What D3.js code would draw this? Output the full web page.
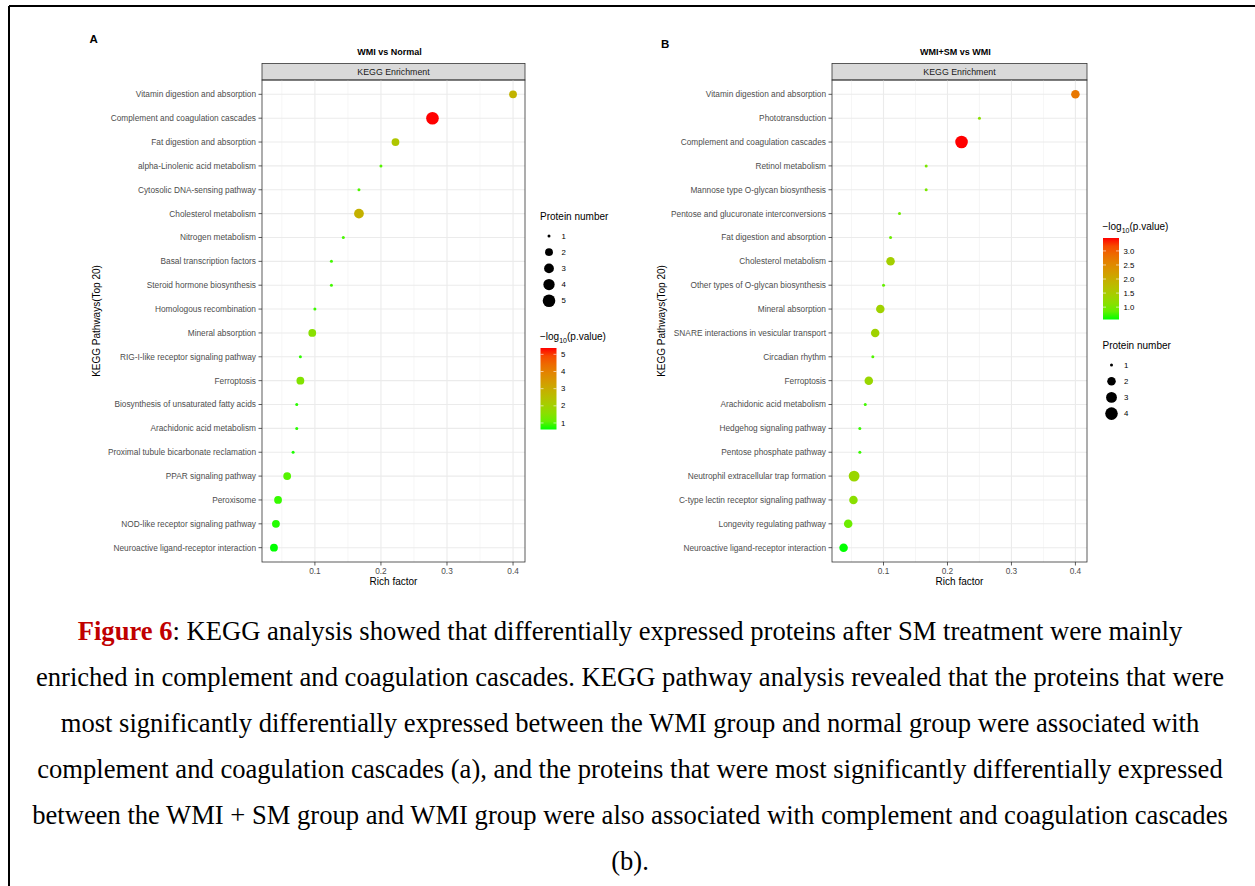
<!DOCTYPE html>
<html>
<head>
<meta charset="utf-8">
<script src="https://cdn.jsdelivr.net/npm/d3@7"></script>
<style>
  body { margin: 0; background: white; }
  svg { display: block; }
</style>
</head>
<body>
<div id="container"></div>
<script>
// KEGG enrichment bubble plots (Figure 6, panels A and B)

const width = 1255;
const height = 886;

// ---- data: panel A (WMI vs Normal) ----
const pathwaysA = [
  "Vitamin digestion and absorption",
  "Complement and coagulation cascades",
  "Fat digestion and absorption",
  "alpha-Linolenic acid metabolism",
  "Cytosolic DNA-sensing pathway",
  "Cholesterol metabolism",
  "Nitrogen metabolism",
  "Basal transcription factors",
  "Steroid hormone biosynthesis",
  "Homologous recombination",
  "Mineral absorption",
  "RIG-I-like receptor signaling pathway",
  "Ferroptosis",
  "Biosynthesis of unsaturated fatty acids",
  "Arachidonic acid metabolism",
  "Proximal tubule bicarbonate reclamation",
  "PPAR signaling pathway",
  "Peroxisome",
  "NOD-like receptor signaling pathway",
  "Neuroactive ligand-receptor interaction"
];
const richA = [0.4, 0.278, 0.222, 0.2, 0.1667, 0.1667, 0.143, 0.125, 0.125, 0.1,
               0.096, 0.078, 0.078, 0.0725, 0.0725, 0.067, 0.058, 0.0442, 0.041, 0.038];
const countA = [2, 5, 2, 1, 1, 3, 1, 1, 1, 1, 2, 1, 2, 1, 1, 1, 2, 2, 2, 2];
const logpA = [2.8, 5.37, 2.3, 0.95, 0.9, 2.85, 0.85, 0.82, 0.82, 0.78,
               1.55, 0.72, 1.45, 0.7, 0.7, 0.66, 0.95, 0.75, 0.68, 0.62];

// ---- data: panel B (WMI+SM vs WMI) ----
const pathwaysB = [
  "Vitamin digestion and absorption",
  "Phototransduction",
  "Complement and coagulation cascades",
  "Retinol metabolism",
  "Mannose type O-glycan biosynthesis",
  "Pentose and glucuronate interconversions",
  "Fat digestion and absorption",
  "Cholesterol metabolism",
  "Other types of O-glycan biosynthesis",
  "Mineral absorption",
  "SNARE interactions in vesicular transport",
  "Circadian rhythm",
  "Ferroptosis",
  "Arachidonic acid metabolism",
  "Hedgehog signaling pathway",
  "Pentose phosphate pathway",
  "Neutrophil extracellular trap formation",
  "C-type lectin receptor signaling pathway",
  "Longevity regulating pathway",
  "Neuroactive ligand-receptor interaction"
];
const richB = [0.4, 0.25, 0.222, 0.1667, 0.1667, 0.125, 0.111, 0.111, 0.1, 0.095,
               0.087, 0.0833, 0.077, 0.0715, 0.063, 0.063, 0.054, 0.053, 0.0448, 0.0376];
const countB = [2, 1, 4, 1, 1, 1, 1, 2, 1, 2, 2, 1, 2, 1, 1, 1, 3, 2, 2, 2];
const logpB = [2.74, 1.14, 3.46, 1.0, 1.0, 0.92, 0.9, 1.43, 0.85, 1.38,
               1.37, 0.74, 1.3, 0.68, 0.65, 0.65, 1.3, 1.14, 0.9, 0.56];

// ---- ticks / legend breaks ----
const xTicks = [0.1, 0.2, 0.3, 0.4];
const xMinorTicks = [0.05, 0.15, 0.25, 0.35];
const sizeBreaksA = [1, 2, 3, 4, 5];
const sizeBreaksB = [1, 2, 3, 4];
const colorTicksA = [1, 2, 3, 4, 5];
const colorTicksB = [1.0, 1.5, 2.0, 2.5, 3.0];

const captionLines = [
  ": KEGG analysis showed that differentially expressed proteins after SM treatment were mainly",
  "enriched in complement and coagulation cascades. KEGG pathway analysis revealed that the proteins that were",
  "most significantly differentially expressed between the WMI group and normal group were associated with",
  "complement and coagulation cascades (a), and the proteins that were most significantly differentially expressed",
  "between the WMI + SM group and WMI group were also associated with complement and coagulation cascades",
  "(b)."
];

const svg = d3.select("#container")
  .append("svg")
  .attr("width", width)
  .attr("height", height)
  .style("background-color", "white");

// outer frame (top and left edges visible)
svg.append("line").attr("x1", 9).attr("x2", width).attr("y1", 6).attr("y2", 6)
  .attr("stroke", "black").attr("stroke-width", 2);
svg.append("line").attr("x1", 9).attr("x2", 9).attr("y1", 6).attr("y2", height)
  .attr("stroke", "black").attr("stroke-width", 2);

const sansFont = "'Liberation Sans', Arial, sans-serif";

function drawPanel(cfg) {
  const g = svg.append("g").style("font-family", sansFont);
  const { left, right, top, bottom } = cfg;

  // x domain with ggplot style 5% expansion
  const ext = d3.extent(cfg.rich);
  const pad = (ext[1] - ext[0]) * 0.05;
  const x = d3.scaleLinear().domain([ext[0] - pad, ext[1] + pad]).range([left, right]);
  const y = d3.scalePoint().domain(cfg.pathways).range([top, bottom]).padding(0.6);

  const cExt = d3.extent(cfg.logp);
  const color = d3.scaleLinear().domain(cExt).range(["#00ff00", "#ff0000"])
    .interpolate(d3.interpolateLab);

  const sMax = d3.max(cfg.sizeBreaks), sMin = d3.min(cfg.sizeBreaks);
  const sizeT = d3.scaleSqrt().domain([0, sMax - sMin]).range([0, 1]);
  const rLin = d3.scaleLinear().domain([0, 1]).range([1.5, 6.3]);
  const radius = v => rLin(sizeT(v - sMin));

  // title and panel letter
  g.append("text").attr("x", cfg.letterX).attr("y", cfg.letterY)
    .style("font-size", "11.5px").style("font-weight", "bold").text(cfg.letter);
  g.append("text").attr("x", (left + right) / 2 - 4).attr("y", 54.5)
    .attr("text-anchor", "middle")
    .style("font-size", "9px").style("font-weight", "bold").text(cfg.title);

  // strip
  g.append("rect").attr("x", left).attr("y", 63.5).attr("width", right - left).attr("height", top - 63.5)
    .attr("fill", "#d9d9d9").attr("stroke", "#333").attr("stroke-width", 0.8);
  g.append("text").attr("x", (left + right) / 2).attr("y", 75)
    .attr("text-anchor", "middle").attr("fill", "#1a1a1a")
    .style("font-size", "8.8px").text("KEGG Enrichment");

  // grid
  const grid = g.append("g");
  grid.selectAll(".minor").data(xMinorTicks).join("line")
    .attr("x1", d => x(d)).attr("x2", d => x(d)).attr("y1", top).attr("y2", bottom)
    .attr("stroke", "#f0f0f0").attr("stroke-width", 0.6);
  grid.selectAll(".majorx").data(xTicks).join("line")
    .attr("x1", d => x(d)).attr("x2", d => x(d)).attr("y1", top).attr("y2", bottom)
    .attr("stroke", "#ebebeb").attr("stroke-width", 1.1);
  grid.selectAll(".majory").data(cfg.pathways).join("line")
    .attr("x1", left).attr("x2", right).attr("y1", d => y(d)).attr("y2", d => y(d))
    .attr("stroke", "#ebebeb").attr("stroke-width", 1.1);

  // points
  const rows = cfg.pathways.map((p, i) => ({
    p, rich: cfg.rich[i], n: cfg.count[i], lp: cfg.logp[i]
  }));
  g.append("g").selectAll("circle").data(rows).join("circle")
    .attr("cx", d => x(d.rich)).attr("cy", d => y(d.p))
    .attr("r", d => radius(d.n))
    .attr("fill", d => color(d.lp));

  // panel border
  g.append("rect").attr("x", left).attr("y", top).attr("width", right - left).attr("height", bottom - top)
    .attr("fill", "none").attr("stroke", "#333").attr("stroke-width", 0.8);

  // y axis
  const yAxis = g.append("g");
  yAxis.selectAll("line").data(cfg.pathways).join("line")
    .attr("x1", left - 3.5).attr("x2", left).attr("y1", d => y(d)).attr("y2", d => y(d))
    .attr("stroke", "#333").attr("stroke-width", 0.8);
  yAxis.selectAll("text").data(cfg.pathways).join("text")
    .attr("x", left - 6).attr("y", d => y(d) + 2.9)
    .attr("text-anchor", "end").attr("fill", "#4d4d4d")
    .style("font-size", "8.3px").text(d => d);

  // x axis
  const xAxis = g.append("g");
  xAxis.selectAll("line").data(xTicks).join("line")
    .attr("x1", d => x(d)).attr("x2", d => x(d)).attr("y1", bottom).attr("y2", bottom + 3.5)
    .attr("stroke", "#333").attr("stroke-width", 0.8);
  xAxis.selectAll("text").data(xTicks).join("text")
    .attr("x", d => x(d)).attr("y", bottom + 11.5)
    .attr("text-anchor", "middle").attr("fill", "#4d4d4d")
    .style("font-size", "8.3px").text(d => d3.format(".1f")(d));

  g.append("text").attr("x", (left + right) / 2).attr("y", 585)
    .attr("text-anchor", "middle").style("font-size", "10px").text("Rich factor");
  g.append("text")
    .attr("transform", `translate(${cfg.yTitleX}, ${(top + bottom) / 2}) rotate(-90)`)
    .attr("text-anchor", "middle").style("font-size", "10px").text("KEGG Pathways(Top 20)");

  // size legend
  const sl = g.append("g").attr("transform", `translate(${cfg.legendX}, ${cfg.sizeLegendY})`);
  sl.append("text").attr("x", 0).attr("y", 0).style("font-size", "10px").text("Protein number");
  sl.selectAll("circle").data(cfg.sizeBreaks).join("circle")
    .attr("cx", 9).attr("cy", (d, i) => 16 + i * 16.2)
    .attr("r", d => radius(d)).attr("fill", "black");
  sl.selectAll(".lab").data(cfg.sizeBreaks).join("text")
    .attr("x", 21.5).attr("y", (d, i) => 16 + i * 16.2 + 2.6)
    .style("font-size", "7.8px").text(d => d);

  // colour legend
  const cl = g.append("g").attr("transform", `translate(${cfg.legendX}, ${cfg.colorLegendY})`);
  const ct = cl.append("text").attr("x", 0).attr("y", 0).style("font-size", "10px");
  ct.append("tspan").text("\u2212log");
  ct.append("tspan").attr("dy", 2.5).style("font-size", "7px").text("10");
  ct.append("tspan").attr("dy", -2.5).text("(p.value)");

  const barTop = 8, barH = 81.5, barW = 16;
  const gradId = "grad" + cfg.letter;
  const grad = svg.append("defs").append("linearGradient").attr("id", gradId)
    .attr("x1", 0).attr("x2", 0).attr("y1", 1).attr("y2", 0);
  d3.range(0, 1.0001, 0.1).forEach(t => {
    grad.append("stop").attr("offset", t)
      .attr("stop-color", color(cExt[0] + t * (cExt[1] - cExt[0])));
  });
  cl.append("rect").attr("x", 0.5).attr("y", barTop).attr("width", barW).attr("height", barH)
    .attr("fill", `url(#${gradId})`);
  const cy = d3.scaleLinear().domain(cExt).range([barTop + barH, barTop]);
  cl.selectAll(".tk").data(cfg.colorTicks).join("g").each(function (d) {
    const t = d3.select(this);
    t.append("line").attr("x1", 0.5).attr("x2", 3.5).attr("y1", cy(d)).attr("y2", cy(d))
      .attr("stroke", "white").attr("stroke-width", 0.6);
    t.append("line").attr("x1", barW - 2.5).attr("x2", barW + 0.5).attr("y1", cy(d)).attr("y2", cy(d))
      .attr("stroke", "white").attr("stroke-width", 0.6);
    t.append("text").attr("x", barW + 5).attr("y", cy(d) + 2.6)
      .style("font-size", "7.8px").text(cfg.colorFormat(d));
  });
}

drawPanel({
  letter: "A", letterX: 89.5, letterY: 43, title: "WMI vs Normal",
  left: 262, right: 525, top: 80, bottom: 562, yTitleX: 100,
  pathways: pathwaysA, rich: richA, count: countA, logp: logpA,
  sizeBreaks: sizeBreaksA, colorTicks: colorTicksA, colorFormat: d3.format("d"),
  legendX: 540, sizeLegendY: 220, colorLegendY: 340
});

drawPanel({
  letter: "B", letterX: 661, letterY: 48, title: "WMI+SM vs WMI",
  left: 832, right: 1087, top: 80, bottom: 562, yTitleX: 665,
  pathways: pathwaysB, rich: richB, count: countB, logp: logpB,
  sizeBreaks: sizeBreaksB, colorTicks: colorTicksB, colorFormat: d3.format(".1f"),
  legendX: 1102.5, sizeLegendY: 349, colorLegendY: 230
});

// caption
const cap = svg.append("g")
  .style("font-family", "'Liberation Serif', 'Times New Roman', serif")
  .style("font-size", "26.6px");
captionLines.forEach((line, i) => {
  const t = cap.append("text").attr("x", 630).attr("y", 640 + i * 46).attr("text-anchor", "middle");
  if (i === 0) {
    t.append("tspan").attr("fill", "#c00000").style("font-weight", "bold").text("Figure 6");
  }
  t.append("tspan").text(line);
});
</script>
</body>
</html>
